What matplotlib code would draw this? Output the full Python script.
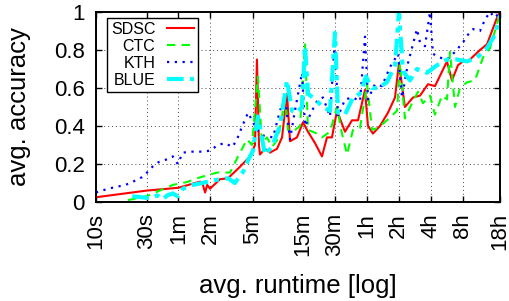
import numpy as np
import matplotlib
matplotlib.use('Agg')
import matplotlib.pyplot as plt

plt.rcParams['font.family'] = ['Liberation Sans', 'DejaVu Sans']

# avg. runtime in seconds, avg. accuracy
sdsc_t = [10, 30, 60, 86, 96, 102, 107, 112, 119, 148, 176, 228, 284, 316, 330, 345,
          352, 393, 438, 510, 569, 634, 677, 787, 897, 1000, 1165, 1355, 1511, 1683,
          1878, 2236, 2602, 2965, 3451, 3681, 4104, 4775, 5683, 6622, 7217, 8222,
          9790, 11400, 13560, 15780, 20480, 22820, 26020, 28990, 32280, 41950,
          48860, 60680, 64730]
sdsc_acc = [0.025, 0.06, 0.075, 0.10, 0.107, 0.09, 0.05, 0.09, 0.07, 0.12, 0.125, 0.185,
            0.24, 0.30, 0.75, 0.30, 0.25, 0.28, 0.26, 0.28, 0.34, 0.57, 0.32, 0.34, 0.42,
            0.37, 0.31, 0.24, 0.34, 0.34, 0.48, 0.37, 0.43, 0.43, 0.59, 0.40, 0.36, 0.40,
            0.47, 0.55, 0.73, 0.50, 0.55, 0.56, 0.62, 0.61, 0.74, 0.64, 0.72, 0.74, 0.74,
            0.80, 0.83, 0.97, 1.0]

ctc_t = [20, 30, 53, 72, 96, 139, 184, 219, 266, 296, 337, 368, 410, 457, 521, 607,
         648, 721, 841, 937, 1000, 1217, 1355, 1614, 1878, 2094, 2336, 2659, 3097,
         3605, 4018, 4575, 5559, 6918, 7375, 8222, 9573, 10914, 12160, 14160, 15780,
         18370, 20480, 21870, 24380, 27180, 31620, 37600, 44770, 52120, 64730]
ctc_acc = [0.01, 0.03, 0.09, 0.105, 0.13, 0.155, 0.155, 0.24, 0.33, 0.30, 0.66, 0.31,
           0.34, 0.29, 0.33, 0.54, 0.38, 0.37, 0.40, 0.83, 0.38, 0.36, 0.34, 0.37, 0.50,
           0.36, 0.25, 0.38, 0.39, 0.62, 0.38, 0.39, 0.43, 0.48, 0.73, 0.44, 0.52, 0.58,
           0.52, 0.56, 0.46, 0.56, 0.54, 0.79, 0.50, 0.60, 0.63, 0.64, 0.76, 0.81, 0.99]

kth_t = [10, 13, 19, 22, 27, 31, 34, 39, 47, 53, 59, 66, 81, 101, 119, 141, 164, 194,
         214, 240, 272, 284, 330, 376, 468, 544, 607, 677, 753, 878, 937, 1091, 1243,
         1386, 1614, 1798, 1919, 2236, 2659, 3097, 3451, 3681, 4285, 4989, 5938, 7066,
         7705, 8770, 10670, 11400, 12700, 14160, 15110, 17590, 20480, 24380, 28990,
         32280, 36060, 41950, 46770, 52120, 58080, 64730]
kth_acc = [0.05, 0.07, 0.09, 0.105, 0.13, 0.16, 0.185, 0.21, 0.225, 0.24, 0.20, 0.26,
           0.265, 0.265, 0.27, 0.30, 0.31, 0.29, 0.33, 0.40, 0.47, 0.45, 0.38, 0.35,
           0.34, 0.48, 0.55, 0.33, 0.48, 0.68, 0.40, 0.48, 0.54, 0.55, 0.45, 0.87, 0.45,
           0.54, 0.55, 0.53, 0.87, 0.54, 0.62, 0.61, 0.71, 0.78, 0.55, 0.73, 0.91, 0.84,
           0.82, 1.0, 0.78, 0.76, 0.75, 0.79, 0.84, 0.88, 0.91, 0.90, 0.96, 1.0, 0.97, 1.0]

blue_t = [22, 27, 32, 38, 43, 47, 53, 59, 66, 82, 101, 130, 176, 204, 245, 272, 303,
          316, 337, 393, 457, 544, 634, 706, 787, 878, 937, 1000, 1165, 1386, 1614,
          1798, 1919, 2236, 2659, 3097, 3525, 4018, 4575, 5559, 6622, 7217, 7870, 9163,
          10670, 13270, 16490, 20480, 25470, 31620, 39280, 48860, 58080, 64730]
blue_acc = [0.03, 0.025, 0.02, 0.035, 0.015, 0.035, 0.045, 0.03, 0.07, 0.09, 0.10,
            0.115, 0.125, 0.10, 0.16, 0.22, 0.27, 0.35, 0.45, 0.25, 0.29, 0.40, 0.64,
            0.48, 0.47, 0.50, 0.82, 0.57, 0.54, 0.50, 0.48, 0.89, 0.47, 0.46, 0.55, 0.57,
            0.66, 0.60, 0.60, 0.63, 0.72, 1.0, 0.69, 0.64, 0.70, 0.68, 0.72, 0.75, 0.75,
            0.74, 0.76, 0.81, 0.88, 0.98]

tick_secs = [10, 30, 60, 120, 300, 900, 1800, 3600, 7200, 14400, 28800, 64800]
tick_labels = ['10s', '30s', '1m', '2m', '5m', '15m', '30m', '1h', '2h', '4h', '8h', '18h']


def main():
    fig = plt.figure(figsize=(5.09, 3.01), dpi=100)
    ax = fig.add_axes([0.1886, 0.3289, 0.7937, 0.6312])

    ax.plot(sdsc_t, sdsc_acc, '-', color='#ff0000', lw=1.5, label='SDSC')
    ax.plot(ctc_t, ctc_acc, '--', color='#00ff00', lw=1.5, dashes=(4, 3), label='CTC')
    ax.plot(kth_t, kth_acc, ':', color='#0000ff', lw=1.6, dashes=(1, 2.5), label='KTH')
    ax.plot(blue_t, blue_acc, '-.', color='#00ffff', lw=3.0, dashes=(4, 1.5, 1.2, 1.5),
            label='BLUE')

    ax.set_xscale('log')
    ax.set_xlim(10, 64800)
    ax.set_ylim(0, 1)
    ax.set_xticks(tick_secs)
    ax.set_xticklabels(tick_labels, rotation=90)
    ax.minorticks_off()
    ax.set_yticks([0, 0.2, 0.4, 0.6, 0.8, 1.0])
    ax.set_yticklabels(['0', '0.2', '0.4', '0.6', '0.8', '1'])
    ax.tick_params(direction='in', top=True, right=True, labelsize=16, length=4,
                   width=1, pad=8)
    ax.grid(True, linestyle=(0, (1, 3)), color='#444444', lw=0.7)
    for s in ax.spines.values():
        s.set_linewidth(1.4)

    ax.set_xlabel('avg. runtime [log]', fontsize=18.5)
    ax.set_ylabel('avg. accuracy', fontsize=18.5)
    ax.xaxis.set_label_coords(0.5, -0.38)
    ax.yaxis.set_label_coords(-0.16, 0.5)

    leg = ax.legend(loc='upper left', bbox_to_anchor=(0.027, 0.968), borderaxespad=0,
                    markerfirst=False, fancybox=False, framealpha=1, fontsize=11.5,
                    handlelength=1.7, handletextpad=0.7, labelspacing=0.12,
                    borderpad=0.25)
    leg.get_frame().set_edgecolor('black')
    leg.get_frame().set_linewidth(1.0)

    fig.savefig('out.png', dpi=100)


if __name__ == '__main__':
    main()
